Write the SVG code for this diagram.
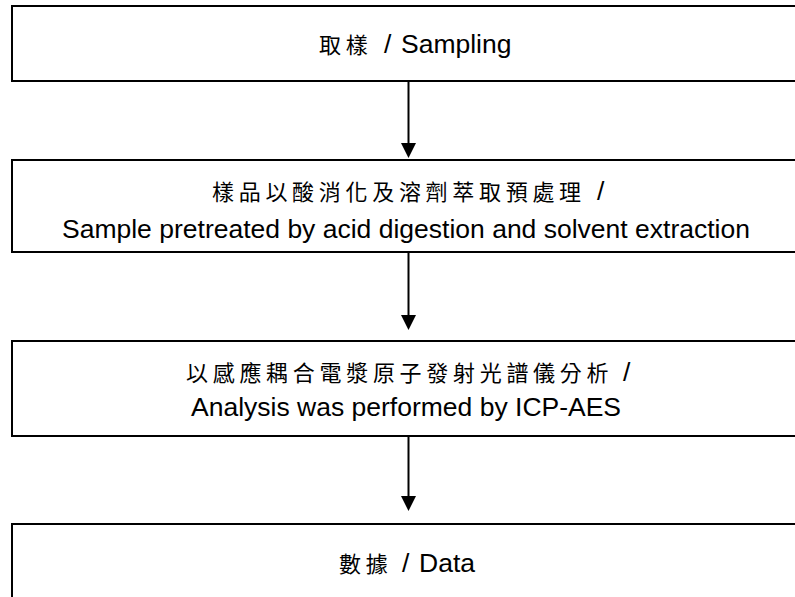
<svg xmlns="http://www.w3.org/2000/svg" width="795" height="597" viewBox="0 0 795 597">
  <style>
    .box { fill: #ffffff; stroke: #000000; stroke-width: 2; }
    .conn { stroke: #000000; stroke-width: 2; fill: none; }
    .zh { font-family: "Noto Sans CJK TC", "Noto Sans CJK SC", sans-serif; font-size: 22px; letter-spacing: 4.7px; fill: #000; }
    .en { font-family: "Liberation Sans", Arial, sans-serif; font-size: 26.5px; fill: #000; }
  </style>
  <defs>
    <marker id="arrow" markerUnits="userSpaceOnUse" markerWidth="15" markerHeight="15" refX="7" refY="7.5" orient="auto">
      <path d="M0,0 L15,7.5 L0,15 z" fill="#000000"/>
    </marker>
  </defs>
  <rect x="0" y="0" width="795" height="597" fill="#ffffff"/>

  <g id="node-sampling">
    <rect class="box" x="12" y="6" width="800" height="75"/>
    <text y="53"><tspan class="zh" x="319">取樣</tspan><tspan class="en" x="384">/</tspan><tspan class="en" x="401">Sampling</tspan></text>
  </g>

  <g id="node-pretreatment">
    <rect class="box" x="12" y="160" width="800" height="92"/>
    <text y="200"><tspan class="zh" x="212">樣品以酸消化及溶劑萃取預處理</tspan><tspan class="en" x="597">/</tspan></text>
    <text class="en" x="62" y="238">Sample pretreated by acid digestion and solvent extraction</text>
  </g>

  <g id="node-analysis">
    <rect class="box" x="12" y="341" width="800" height="95"/>
    <text y="381"><tspan class="zh" x="186">以感應耦合電漿原子發射光譜儀分析</tspan><tspan class="en" x="623">/</tspan></text>
    <text class="en" x="191" y="416">Analysis was performed by ICP-AES</text>
  </g>

  <g id="node-data">
    <rect class="box" x="12" y="524" width="800" height="100"/>
    <text y="572"><tspan class="zh" x="339">數據</tspan><tspan class="en" x="402">/</tspan><tspan class="en" x="419">Data</tspan></text>
  </g>

  <g id="connectors">
    <line class="conn" x1="408.5" y1="82" x2="408.5" y2="150" marker-end="url(#arrow)"/>
    <line class="conn" x1="408.5" y1="253" x2="408.5" y2="322" marker-end="url(#arrow)"/>
    <line class="conn" x1="408.5" y1="437" x2="408.5" y2="503" marker-end="url(#arrow)"/>
  </g>
</svg>
